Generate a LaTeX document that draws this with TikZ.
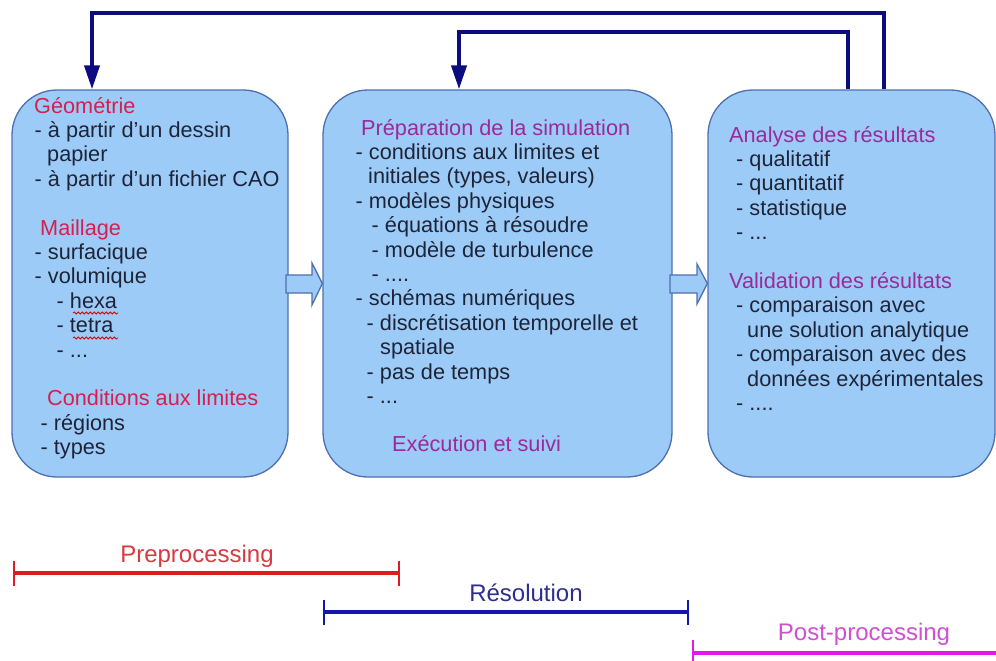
\documentclass[tikz,border=0pt]{standalone}
\usepackage{fontspec}
\setmainfont{Liberation Sans}
\usetikzlibrary{arrows.meta,decorations.pathmorphing}
\definecolor{boxfill}{HTML}{9DCBF7}
\definecolor{boxline}{HTML}{4F6FB0}
\definecolor{navy}{HTML}{0C0C80}
\definecolor{hred}{HTML}{D4204C}
\definecolor{hpurple}{HTML}{9A2A9A}
\definecolor{bodytxt}{HTML}{1E2438}
\definecolor{prered}{HTML}{E01A22}
\definecolor{prelbl}{HTML}{D83A40}
\definecolor{resblue}{HTML}{1414B0}
\definecolor{reslbl}{HTML}{2E2E90}
\definecolor{postmag}{HTML}{EC14EC}
\definecolor{postlbl}{HTML}{D050D0}
\begin{document}
\begin{tikzpicture}[x=1pt,y=-1pt,
 panel/.style={draw=boxline,line width=1.3pt,fill=boxfill,rounded corners=45pt,inner sep=0pt},
 bodyline/.style={anchor=base west,inner sep=0pt,text=bodytxt,font=\fontsize{21.7}{24.4}\selectfont},
 feedback/.style={draw=navy,line width=4pt,-{Triangle[width=15pt,length=24pt]}},
 blockarrow/.style={draw=boxline,line width=1.3pt,fill=boxfill,line join=miter},
 phasebar/.style={line width=4pt},
 phasetick/.style={line width=2.2pt},
 phaselbl/.style={anchor=base,inner sep=0pt,font=\fontsize{24}{28}\selectfont},
 wavy/.style={draw=red!85!black,line width=0.8pt,decorate,decoration={snake,amplitude=1pt,segment length=4pt}}
]
\useasboundingbox (0,0) rectangle (996,661);
\fill[white] (0,0) rectangle (996,661);

% panels
\node[panel,minimum width=276pt,minimum height=387pt] (b1) at (150,283.5) {};
\node[panel,minimum width=349pt,minimum height=387pt] (b2) at (497.5,283.5) {};
\node[panel,minimum width=287pt,minimum height=387pt] (b3) at (851.5,283.5) {};

% block arrows between panels
\draw[blockarrow] (286,275) -- (312,275) -- (312,263) -- (b2.west) -- (312,305) -- (312,293) -- (286,293) -- cycle;
\draw[blockarrow] (670,275) -- (697,275) -- (697,264) -- (b3.west) -- (697,304) -- (697,293) -- (670,293) -- cycle;

% panel 1 text
\foreach \x/\y/\t [count=\i] in {
 34/113/{\textcolor{hred}{Géométrie}},
 34.5/137.4/{- à partir d'un dessin},
 47/161.8/{papier},
 34.5/186.2/{- à partir d'un fichier CAO},
 40/235/{\textcolor{hred}{Maillage}},
 34.5/259.4/{- surfacique},
 34.5/283.8/{- volumique},
 56.5/308.2/{- hexa},
 56.5/332.6/{- tetra},
 56.5/357/{- ...},
 47/405.8/{\textcolor{hred}{Conditions aux limites}},
 40.5/430.2/{- régions},
 40.5/454.6/{- types}}
 \node[bodyline] (p1l\i) at (\x,\y) {\t};

\draw[wavy] (73,313) -- (118,313);
\draw[wavy] (73,338) -- (118,338);

% panel 2 text
\foreach \x/\y/\t [count=\i] in {
 361/135/{\textcolor{hpurple}{Préparation de la simulation}},
 355.5/159.4/{- conditions aux limites et},
 368/183.8/{initiales (types, valeurs)},
 355.5/208.2/{- modèles physiques},
 371.5/232.6/{- équations à résoudre},
 371.5/257/{- modèle de turbulence},
 371.5/281.4/{- ....},
 355.5/305.8/{- schémas numériques},
 366.5/330.2/{- discrétisation temporelle et},
 380/354.6/{spatiale},
 366.5/379/{- pas de temps},
 366.5/403.4/{- ...},
 392/451/{\textcolor{hpurple}{Exécution et suivi}}}
 \node[bodyline] (p2l\i) at (\x,\y) {\t};

% panel 3 text
\foreach \x/\y/\t [count=\i] in {
 729/142/{\textcolor{hpurple}{Analyse des résultats}},
 736/166.4/{- qualitatif},
 736/190.8/{- quantitatif},
 736/215.2/{- statistique},
 736/239.6/{- ...},
 729/288.4/{\textcolor{hpurple}{Validation des résultats}},
 736/312.8/{- comparaison avec},
 747/337.2/{une solution analytique},
 736/361.6/{- comparaison avec des},
 747/386/{données expérimentales},
 736/410.4/{- ....}}
 \node[bodyline] (p3l\i) at (\x,\y) {\t};

% feedback arrows
\coordinate (outerx) at (884,0);
\coordinate (innerx) at (848,0);
\coordinate (outertop) at (92,13);
\coordinate (innertop) at (459,32);
\draw[feedback] (b3.north -| outerx) |- (outertop) -- (b1.north -| outertop);
\draw[feedback] (b3.north -| innerx) |- (innertop) -- (b2.north -| innertop);

% phases
\node[phaselbl,text=prelbl] (pre) at (197,562) {Preprocessing};
\draw[phasebar,prered] (14,573) -- (399,573);
\draw[phasetick,prered] (14,561) -- (14,586) (399,561) -- (399,586);

\node[phaselbl,text=reslbl] (res) at (526,601) {Résolution};
\draw[phasebar,resblue] (324,612) -- (688,612);
\draw[phasetick,resblue] (324,600) -- (324,625) (688,600) -- (688,625);

\node[phaselbl,text=postlbl] (post) at (864,640) {Post-processing};
\draw[phasebar,postmag] (693,653) -- (996,653);
\draw[phasetick,postmag] (693,640) -- (693,661);
\end{tikzpicture}
\end{document}
